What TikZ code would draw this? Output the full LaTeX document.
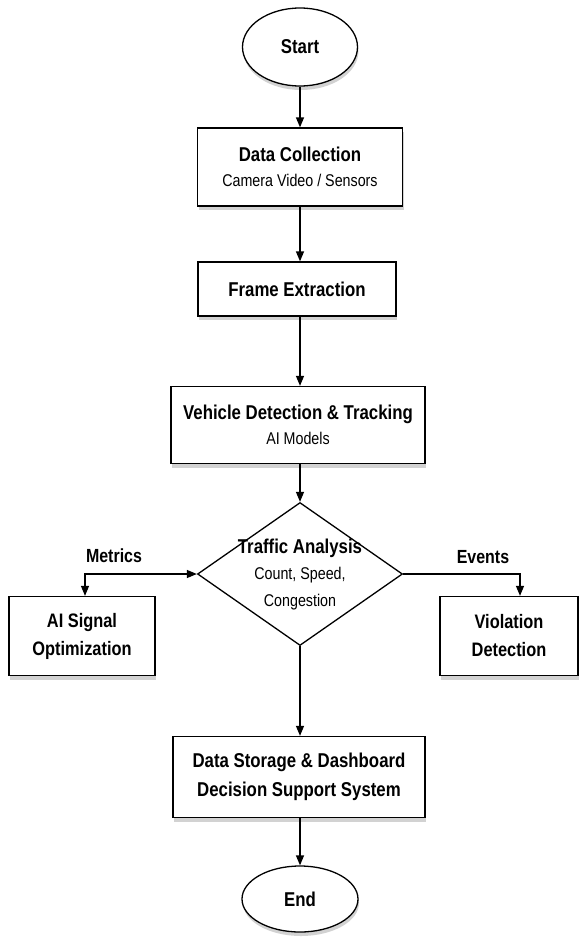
\documentclass[tikz,border=0pt]{standalone}
\usepackage{fontspec}
\setmainfont{Liberation Sans}[FakeStretch=0.84]
\usetikzlibrary{shapes.geometric,arrows.meta,shadows}
\begin{document}
\begin{tikzpicture}[x=1pt,y=-1pt,
  every node/.style={font=\fontsize{20}{24}\selectfont},
  boxsh/.style={drop shadow={shadow xshift=1pt,shadow yshift=-4pt,fill=black!35,opacity=0.5}},
  procbox/.style={draw,line width=1.3pt,fill=white,boxsh,align=center,inner sep=0pt},
  term/.style={draw,ellipse,line width=1.3pt,fill=white,boxsh,inner sep=0pt},
  dec/.style={draw,diamond,line width=1.3pt,fill=white,inner sep=0pt,aspect=1.43},
  flow/.style={line width=1.3pt,-{Triangle[length=10pt,width=8pt]}},
  lbl/.style={font=\bfseries\fontsize{19}{22}\selectfont}
]
\newcommand{\subtxt}{\fontseries{m}\fontsize{17}{21}\selectfont}
\useasboundingbox (0,0) rectangle (580,938);
\node[term,minimum width=115pt,minimum height=78pt] (start) at (300,47) {\bfseries Start};
\node[procbox,minimum width=205pt,minimum height=78pt] (dc) at (300,167)
  {{\bfseries Data Collection}\\[1pt]{\subtxt Camera Video / Sensors}};
\node[procbox,minimum width=198pt,minimum height=54pt] (fe) at (297,289) {\bfseries Frame Extraction};
\node[procbox,minimum width=254pt,minimum height=77pt] (vd) at (298,425)
  {{\bfseries Vehicle Detection \& Tracking}\\[1pt]{\subtxt AI Models}};
\node[dec,minimum width=205pt,minimum height=143pt] (ta) at (300,574) {};
\node[align=center,inner sep=0pt] (tatext) at (300,575)
  {{\bfseries Traffic Analysis}\\[2pt]{\subtxt Count, Speed,}\\[3pt]{\subtxt Congestion}};
\node[procbox,minimum width=146pt,minimum height=79pt,font=\bfseries\fontsize{19.5}{28}\selectfont] (ai) at (82,636)
  {AI Signal\\Optimization};
\node[procbox,minimum width=138pt,minimum height=79pt,font=\bfseries\fontsize{19.5}{28}\selectfont] (vio) at (509,636)
  {Violation\\Detection};
\node[procbox,minimum width=252pt,minimum height=81pt,font=\bfseries\fontsize{20}{29}\selectfont] (ds) at (299,777)
  {Data Storage \& Dashboard\\Decision Support System};
\node[term,minimum width=116pt,minimum height=66pt] (end) at (300,899) {\bfseries End};

\coordinate (aitop) at ([xshift=3pt]ai.north);
\coordinate (viotop) at ([xshift=11pt]vio.north);
\draw[flow] (start.south) -- (start.south |- dc.north);
\draw[flow] (dc.south -| ta.north) -- (ta.north |- fe.north);
\draw[flow] (fe.south -| ta.north) -- (ta.north |- vd.north);
\draw[flow] (vd.south -| ta.north) -- (ta.north);
\draw[flow] (ta.south) -- (ta.south |- ds.north);
\draw[flow] (ds.south -| end.north) -- (end.north);
\draw[line width=1.3pt,{Triangle[length=10pt,width=8pt]}-{Triangle[length=10pt,width=8pt]}] (ta.west) -| (aitop);
\draw[flow] (ta.east) -| (viotop);
\node[lbl] (mlab) at (114,556) {Metrics};
\node[lbl] (elab) at (483,557) {Events};
\end{tikzpicture}
\end{document}
